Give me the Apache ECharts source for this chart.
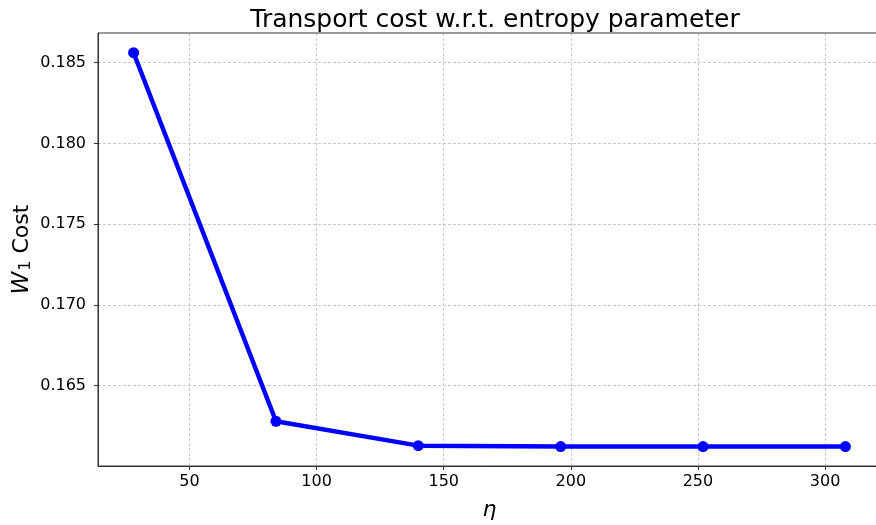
<!DOCTYPE html>
<html><head><meta charset="utf-8">
<script src="https://cdn.jsdelivr.net/npm/echarts@6/dist/echarts.min.js"></script>
<style>html,body{margin:0;padding:0;background:#fff}#c{width:876px;height:525px}</style>
</head><body><div id="c"></div>
<script>
const etaValues = [28, 84, 140, 196, 252, 308];
const costValues = [0.18562, 0.16280, 0.16129, 0.16123, 0.16123, 0.16123];
const xTicks = [50, 100, 150, 200, 250, 300];
const yTicks = [0.165, 0.170, 0.175, 0.180, 0.185];
const titleText = 'Transport cost w.r.t. entropy parameter';

const chart = echarts.init(document.getElementById('c'));
const FONT = 'DejaVu Sans';
const gridLine = {show: true, lineStyle: {color: '#b0b0b0', width: 0.7, type: [3, 2]}};
chart.setOption({
  animation: false,
  backgroundColor: '#fff',
  title: {text: titleText, left: 490, top: 3, textAlign: 'center',
    textStyle: {fontFamily: FONT, fontSize: 25, fontWeight: 'normal', color: '#000'}},
  grid: {left: 98, top: 33, width: 783, bottom: 59, show: true, borderColor: '#333', borderWidth: 1,
    backgroundColor: 'transparent', containLabel: false, outerBoundsMode: 'none'},
  xAxis: {
    type: 'value', min: 14, max: 322,
    name: 'η', nameLocation: 'middle', nameGap: 33,
    nameTextStyle: {fontFamily: FONT, fontSize: 22, fontStyle: 'italic', color: '#000'},
    axisLine: {show: true, onZero: false, lineStyle: {color: '#333', width: 1}},
    axisTick: {show: true, length: 4, customValues: xTicks, lineStyle: {color: '#333'}},
    axisLabel: {customValues: xTicks, margin: 8, fontFamily: FONT, fontSize: 16, color: '#000'},
    splitLine: gridLine
  },
  yAxis: {
    type: 'value', min: 0.16003, max: 0.18684,
    name: '{w|W}{s|1} Cost', nameLocation: 'middle', nameGap: 64, nameRotate: 90,
    nameMoveOverlap: false,
    nameTextStyle: {fontFamily: FONT, fontSize: 22, color: '#000',
      rich: {w: {fontFamily: FONT, fontSize: 23, fontStyle: 'italic', color: '#000'},
             s: {fontFamily: FONT, fontSize: 16, color: '#000', padding: [8, 0, 0, 1]}}},
    axisLine: {show: true, onZero: false, lineStyle: {color: '#333', width: 1}},
    axisTick: {show: true, length: 4, customValues: yTicks, lineStyle: {color: '#333'}},
    axisLabel: {customValues: yTicks, margin: 12, fontFamily: FONT, fontSize: 16, color: '#000',
      formatter: v => v.toFixed(3)},
    splitLine: gridLine
  },
  series: [{
    type: 'line',
    data: etaValues.map((x, i) => [x, costValues[i]]),
    lineStyle: {color: '#0000ff', width: 4.5},
    itemStyle: {color: '#0000ff'},
    symbol: 'circle', symbolSize: 11, showSymbol: true,
    clip: false
  }]
});
</script></body></html>
